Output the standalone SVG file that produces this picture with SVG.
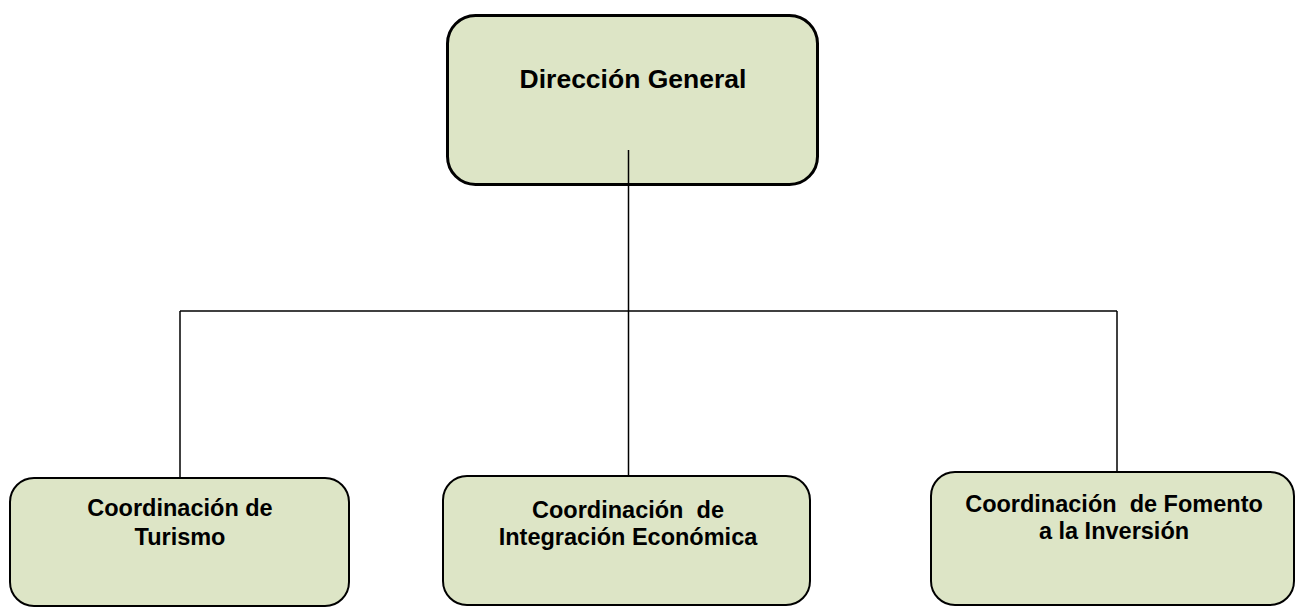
<svg xmlns="http://www.w3.org/2000/svg" width="1296" height="608" viewBox="0 0 1296 608">
<style>
.box{fill:#DDE5C6;stroke:#000;}
.t{font-family:"Liberation Sans",Arial,sans-serif;font-weight:bold;fill:#000;text-anchor:middle;}
.c{stroke:#000;stroke-width:1.5;fill:none;}
</style>
<rect width="1296" height="608" fill="#fff"/>
<g id="connectors">
<line class="c" x1="628.5" y1="150" x2="628.5" y2="476"/>
<line class="c" x1="180" y1="311" x2="1117" y2="311"/>
<line class="c" x1="180" y1="311" x2="180" y2="478"/>
<line class="c" x1="1117" y1="311" x2="1117" y2="472"/>
</g>
<g id="direccion-general">
<rect class="box" x="447.5" y="15.5" width="370" height="169" rx="28" stroke-width="3"/>
<line class="c" x1="628.5" y1="150" x2="628.5" y2="186"/>
<text class="t" x="633" y="88" font-size="26.5">Dirección General</text>
</g>
<g id="coord-turismo">
<rect class="box" x="10" y="478" width="339" height="128" rx="24" stroke-width="2"/>
<text class="t" x="180" y="516" font-size="23.5">Coordinación de</text>
<text class="t" x="180" y="545" font-size="23.5">Turismo</text>
</g>
<g id="coord-integracion">
<rect class="box" x="443" y="476" width="367" height="129" rx="24" stroke-width="2"/>
<text class="t" x="628" y="518" font-size="23.5" xml:space="preserve">Coordinación  de</text>
<text class="t" x="628" y="545" font-size="23.5">Integración Económica</text>
</g>
<g id="coord-fomento">
<rect class="box" x="931" y="472" width="363" height="133" rx="24" stroke-width="2"/>
<text class="t" x="1114" y="512" font-size="23.5" xml:space="preserve">Coordinación  de Fomento</text>
<text class="t" x="1114" y="539" font-size="23.5">a la Inversión</text>
</g>
</svg>
